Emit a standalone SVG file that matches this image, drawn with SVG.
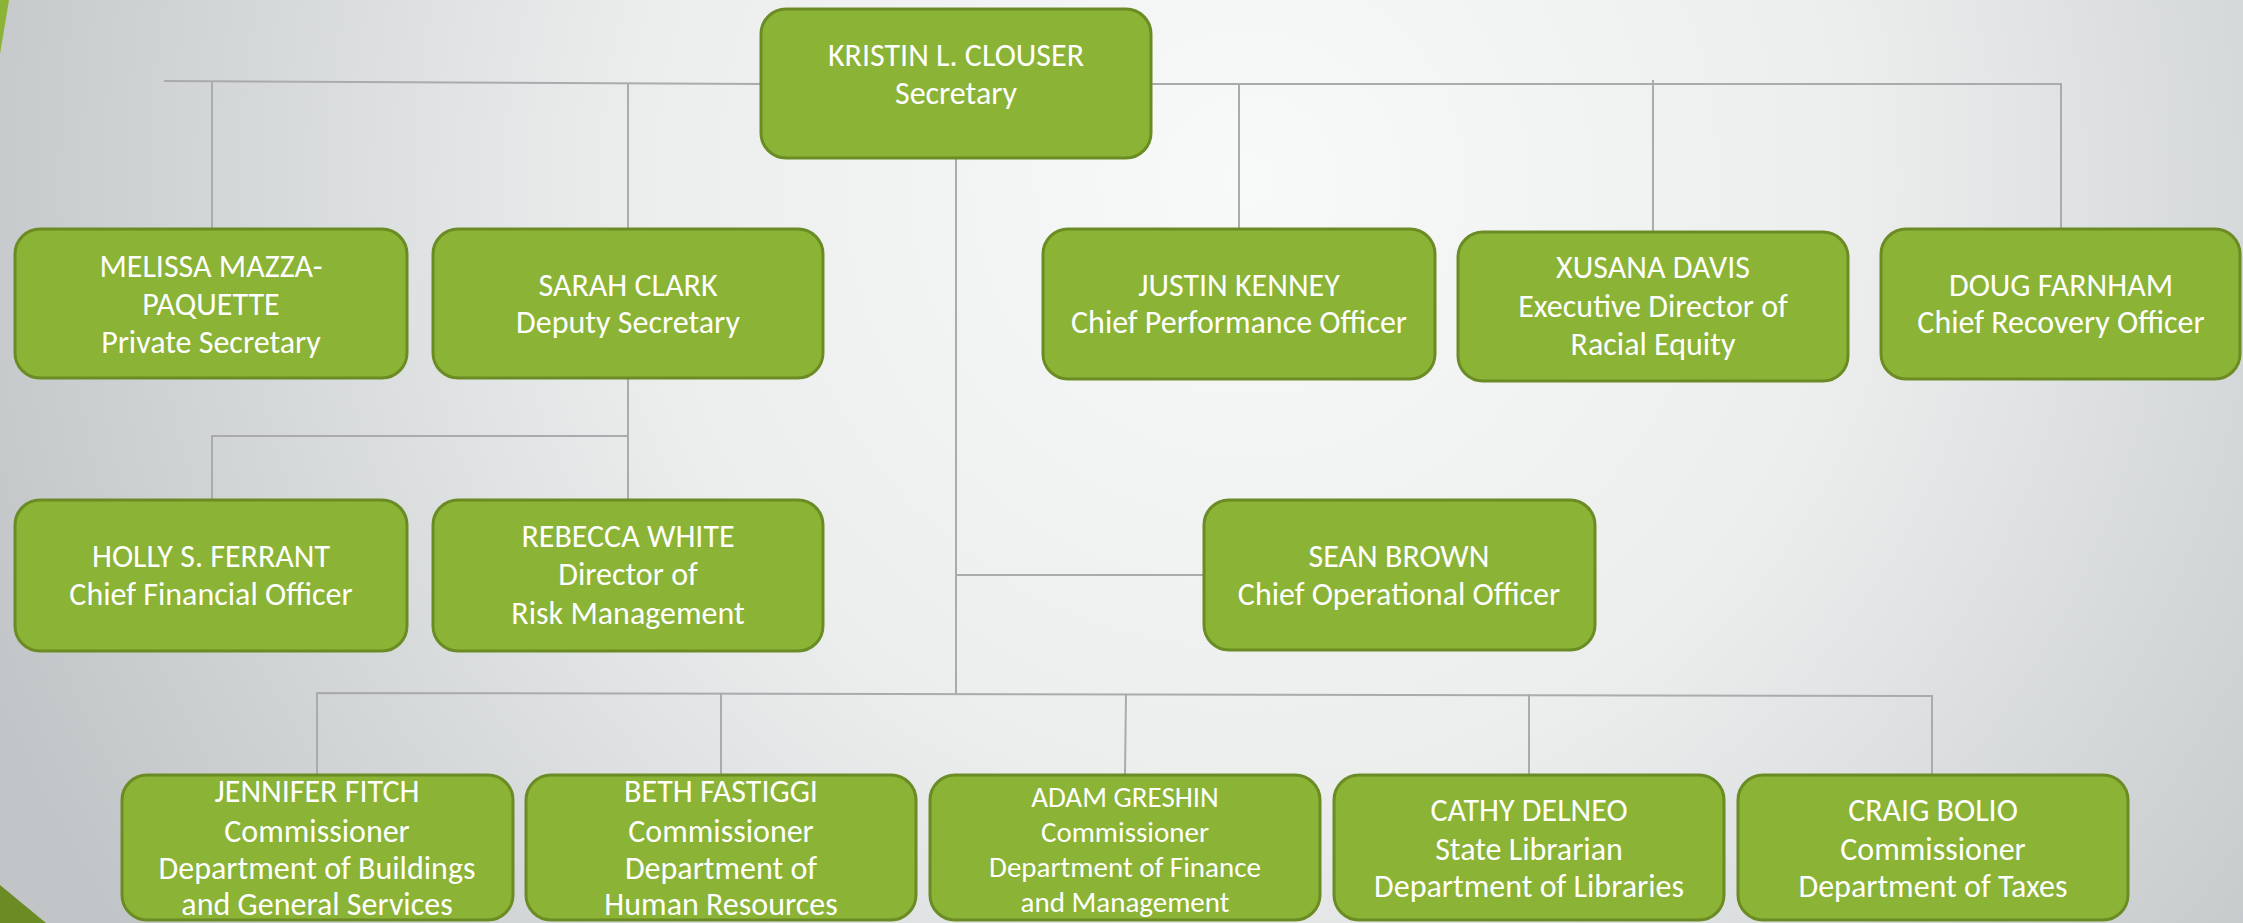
<svg xmlns="http://www.w3.org/2000/svg" width="2243" height="923" viewBox="0 0 2243 923">
<defs>
<radialGradient id="bg" cx="1250" cy="180" r="1350" gradientUnits="userSpaceOnUse">
<stop offset="0" stop-color="#f8f9f9"/>
<stop offset="0.45" stop-color="#eceeee"/>
<stop offset="1" stop-color="#c1c5c7"/>
</radialGradient>
<style>
.box{fill:#8bb335;stroke:#6b8c24;stroke-width:3}
.t{fill:#ffffff;font-family:Carlito,"Liberation Sans Narrow","Liberation Sans",sans-serif;font-size:32px;text-anchor:middle}
.s{font-size:29px}
.c{fill:none;stroke:#a9abac;stroke-width:2}
</style>
</defs>
<rect x="0" y="0" width="2243" height="923" fill="url(#bg)"/>
<polygon points="0,0 9,0 0,54" fill="#8bb335"/>
<polygon points="0,885 46,923 0,923" fill="#6b8c24"/>

<g id="connectors">
<polyline class="c" points="164,81 763,84"/>
<line class="c" x1="212" y1="81" x2="212" y2="229"/>
<line class="c" x1="628" y1="83" x2="628" y2="229"/>
<polyline class="c" points="1151,84 2061,84 2061,229"/>
<line class="c" x1="1239" y1="84" x2="1239" y2="229"/>
<line class="c" x1="1653" y1="80" x2="1653" y2="232"/>
<line class="c" x1="628" y1="378" x2="628" y2="500"/>
<polyline class="c" points="628,436 212,436 212,500"/>
<line class="c" x1="956" y1="158" x2="956" y2="694"/>
<line class="c" x1="956" y1="575" x2="1204" y2="575"/>
<polyline class="c" points="317,775 317,693 1932,696 1932,775"/>
<line class="c" x1="721" y1="693" x2="721" y2="775"/>
<line class="c" x1="1126" y1="694" x2="1125" y2="775"/>
<line class="c" x1="1529" y1="694" x2="1529" y2="775"/>
</g>

<g id="n-clouser">
<rect class="box" x="761" y="9" width="390" height="149" rx="25"/>
<text class="t" x="956" y="66">KRISTIN L. CLOUSER</text>
<text class="t" x="956" y="104">Secretary</text>
</g>
<g id="n-mazza">
<rect class="box" x="15" y="229" width="392" height="149" rx="25"/>
<text class="t" x="211" y="277">MELISSA MAZZA-</text>
<text class="t" x="211" y="315">PAQUETTE</text>
<text class="t" x="211" y="353">Private Secretary</text>
</g>
<g id="n-clark">
<rect class="box" x="433" y="229" width="390" height="149" rx="25"/>
<text class="t" x="628" y="296">SARAH CLARK</text>
<text class="t" x="628" y="333">Deputy Secretary</text>
</g>
<g id="n-kenney">
<rect class="box" x="1043" y="229" width="392" height="150" rx="25"/>
<text class="t" x="1239" y="296">JUSTIN KENNEY</text>
<text class="t" x="1239" y="333">Chief Performance Officer</text>
</g>
<g id="n-davis">
<rect class="box" x="1458" y="232" width="390" height="149" rx="25"/>
<text class="t" x="1653" y="278">XUSANA DAVIS</text>
<text class="t" x="1653" y="317">Executive Director of</text>
<text class="t" x="1653" y="355">Racial Equity</text>
</g>
<g id="n-farnham">
<rect class="box" x="1881" y="229" width="359" height="150" rx="25"/>
<text class="t" x="2061" y="296">DOUG FARNHAM</text>
<text class="t" x="2061" y="333">Chief Recovery Officer</text>
</g>
<g id="n-ferrant">
<rect class="box" x="15" y="500" width="392" height="151" rx="25"/>
<text class="t" x="211" y="567">HOLLY S. FERRANT</text>
<text class="t" x="211" y="605">Chief Financial Officer</text>
</g>
<g id="n-white">
<rect class="box" x="433" y="500" width="390" height="151" rx="25"/>
<text class="t" x="628" y="547">REBECCA WHITE</text>
<text class="t" x="628" y="585">Director of</text>
<text class="t" x="628" y="624">Risk Management</text>
</g>
<g id="n-brown">
<rect class="box" x="1204" y="500" width="391" height="150" rx="25"/>
<text class="t" x="1399" y="567">SEAN BROWN</text>
<text class="t" x="1399" y="605">Chief Operational Officer</text>
</g>
<g id="n-fitch">
<rect class="box" x="122" y="775" width="391" height="145" rx="25"/>
<text class="t" x="317" y="802">JENNIFER FITCH</text>
<text class="t" x="317" y="842">Commissioner</text>
<text class="t" x="317" y="879">Department of Buildings</text>
<text class="t" x="317" y="915">and General Services</text>
</g>
<g id="n-fastiggi">
<rect class="box" x="526" y="775" width="390" height="145" rx="25"/>
<text class="t" x="721" y="802">BETH FASTIGGI</text>
<text class="t" x="721" y="842">Commissioner</text>
<text class="t" x="721" y="879">Department of</text>
<text class="t" x="721" y="915">Human Resources</text>
</g>
<g id="n-greshin">
<rect class="box" x="930" y="775" width="390" height="145" rx="25"/>
<text class="t s" x="1125" y="807">ADAM GRESHIN</text>
<text class="t s" x="1125" y="842">Commissioner</text>
<text class="t s" x="1125" y="877">Department of Finance</text>
<text class="t s" x="1125" y="912">and Management</text>
</g>
<g id="n-delneo">
<rect class="box" x="1334" y="775" width="390" height="145" rx="25"/>
<text class="t" x="1529" y="821">CATHY DELNEO</text>
<text class="t" x="1529" y="860">State Librarian</text>
<text class="t" x="1529" y="897">Department of Libraries</text>
</g>
<g id="n-bolio">
<rect class="box" x="1738" y="775" width="390" height="145" rx="25"/>
<text class="t" x="1933" y="821">CRAIG BOLIO</text>
<text class="t" x="1933" y="860">Commissioner</text>
<text class="t" x="1933" y="897">Department of Taxes</text>
</g>
</svg>
